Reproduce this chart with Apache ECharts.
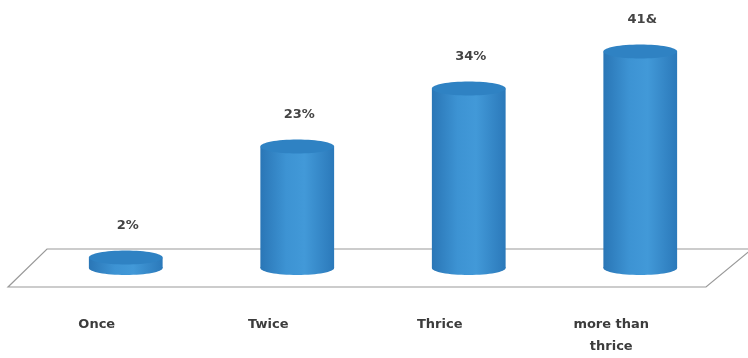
<!DOCTYPE html>
<html>
<head>
<meta charset="utf-8">
<script src="https://cdn.jsdelivr.net/npm/echarts@6/dist/echarts.min.js"></script>
<style>
  html, body { margin: 0; padding: 0; background: #fff; }
  #chart { width: 748px; height: 358px; }
</style>
</head>
<body>
<div id="chart"></div>
<script>
// Survey answers: how often respondents did it
const categories = ['Once', 'Twice', 'Thrice', 'more than\nthrice'];
const values = [2, 23, 34, 41];
const valueLabels = ['2%', '23%', '34%', '41&'];

const chart = echarts.init(document.getElementById('chart'));

const bodyFill = new echarts.graphic.LinearGradient(0, 0, 1, 0, [
  { offset: 0, color: '#2a76b6' },
  { offset: 0.35, color: '#3d93d3' },
  { offset: 0.6, color: '#4299d8' },
  { offset: 1, color: '#2b79ba' }
]);
const topFill = '#2f82c3';

function renderCylinder(params, api) {
  const idx = params.dataIndex;
  const basePt = api.coord([api.value(0), 0]);
  const topPt = api.coord([api.value(0), api.value(1)]);
  const cx = basePt[0];
  const band = api.size([1, 0])[0];
  const rx = band * 0.215;
  const ry = 7;
  return {
    type: 'group',
    children: [
      { type: 'ellipse', shape: { cx: cx, cy: basePt[1], rx: rx, ry: ry }, style: { fill: bodyFill } },
      { type: 'rect', shape: { x: cx - rx, y: topPt[1], width: rx * 2, height: basePt[1] - topPt[1] }, style: { fill: bodyFill } },
      { type: 'ellipse', shape: { cx: cx, cy: topPt[1], rx: rx, ry: ry }, style: { fill: topFill } },
      {
        type: 'text',
        style: {
          text: valueLabels[idx], x: cx + 2, y: topPt[1] - 32,
          align: 'center', verticalAlign: 'middle',
          font: '600 13px "DejaVu Sans"', fill: '#444'
        }
      }
    ]
  };
}

chart.setOption({
  animation: false,
  backgroundColor: '#ffffff',
  grid: { left: 40, right: 22, top: 4, bottom: 88 },
  xAxis: {
    type: 'category',
    data: categories,
    axisLine: { show: false },
    axisTick: { show: false },
    axisLabel: {
      margin: 46,
      padding: [0, 58, 0, 0],
      fontFamily: 'DejaVu Sans',
      fontSize: 13,
      fontWeight: 600,
      color: '#3c3c3c',
      lineHeight: 22
    }
  },
  yAxis: { type: 'value', min: 0, max: 50, show: false, splitLine: { show: false } },
  graphic: [
    {
      type: 'polygon',
      z: 0,
      shape: { points: [[47, 249], [752, 249], [706, 287], [8, 287]] },
      style: { fill: 'rgba(0,0,0,0)', stroke: '#9a9a9a', lineWidth: 1.2 }
    }
  ],
  series: [{
    type: 'custom',
    z: 5,
    renderItem: renderCylinder,
    data: values.map((v, i) => [i, v])
  }]
});
</script>
</body>
</html>
